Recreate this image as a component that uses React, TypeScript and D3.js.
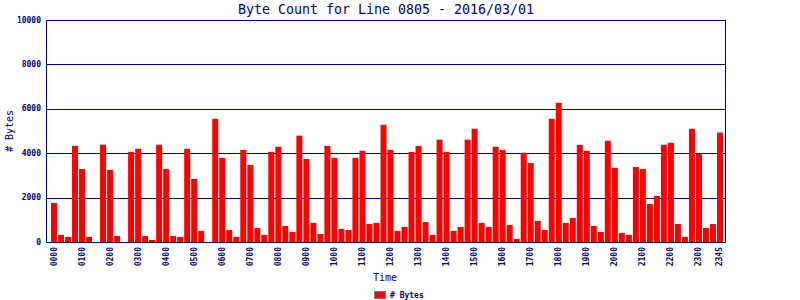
import React from "react";
import * as d3 from "d3";

const title = "Byte Count for Line 0805 - 2016/03/01";
const times: string[] = Array.from({ length: 96 }, (_, i) => {
  const h = Math.floor(i / 4);
  const m = (i % 4) * 15;
  return String(h).padStart(2, "0") + String(m).padStart(2, "0");
});
const tickLabels: string[] = [
  "0000", "0100", "0200", "0300", "0400", "0500", "0600", "0700", "0800", "0900", "1000", "1100",
  "1200", "1300", "1400", "1500", "1600", "1700", "1800", "1900", "2000", "2100", "2200", "2300", "2345",
];
const bytes: number[] = [
  1760, 320, 230, 4330, 3290, 230, 0, 4380,
  3250, 270, 0, 4060, 4200, 270, 90, 4380,
  3290, 270, 230, 4200, 2840, 500, 0, 5550,
  3790, 540, 230, 4150, 3470, 630, 320, 4060,
  4290, 720, 450, 4790, 3740, 860, 360, 4330,
  3790, 590, 540, 3790, 4110, 810, 860, 5280,
  4150, 500, 680, 4060, 4330, 900, 320, 4610,
  4060, 500, 680, 4610, 5100, 860, 680, 4290,
  4150, 770, 140, 4020, 3560, 950, 540, 5550,
  6270, 860, 1080, 4380, 4110, 720, 450, 4560,
  3340, 410, 320, 3380, 3290, 1710, 2080, 4380,
  4470, 810, 230, 5100, 3970, 630, 810, 4930,
];
const yTicks: number[] = [0, 2000, 4000, 6000, 8000, 10000];

const NAVY = "#000080";
const MONO = "'DejaVu Sans Mono', monospace";

export default function App() {
  const left = 46.5, right = 725.5, top = 20, bottom = 242;
  const x = d3.scaleBand<string>().domain(times).range([51, 723]).paddingInner(1 / 7).paddingOuter(0);
  const y = d3.scaleLinear().domain([0, 10000]).range([bottom, top]);

  return (
    <svg width={800} height={300} style={{ position: "absolute", left: 0, top: 0, background: "#fff" }}>
      <rect x={0} y={0} width={800} height={300} fill="#fff" />
      <text x={(left + right) / 2} y={14} textAnchor="middle" fontFamily={MONO} fontSize={13.3} fill={NAVY}>
        {title}
      </text>
      {yTicks.map((t) => (
        <g key={t}>
          <line x1={left} x2={right} y1={Math.round(y(t)) + 0.5} y2={Math.round(y(t)) + 0.5} stroke={NAVY} strokeWidth={1} />
          <text x={41} y={y(t)} textAnchor="end" dominantBaseline="central" fontFamily={MONO} fontSize={8} fontWeight="bold" fill={NAVY}>
            {t}
          </text>
        </g>
      ))}
      {bytes.map((v, i) => (
        <rect key={i} x={x(times[i])} y={y(v)} width={x.bandwidth()} height={bottom - y(v)} fill="#ff0000" />
      ))}
      <line x1={left} x2={left} y1={top} y2={bottom} stroke={NAVY} />
      <line x1={right} x2={right} y1={top} y2={bottom} stroke={NAVY} />
      <line x1={left} x2={right} y1={bottom + 0.5} y2={bottom + 0.5} stroke={NAVY} />
      {tickLabels.map((lab) => {
        const cx = (x(lab) ?? 0) + x.bandwidth() / 2;
        return (
          <text key={lab} transform={`translate(${cx},247) rotate(-90)`} textAnchor="end" dominantBaseline="central"
            fontFamily={MONO} fontSize={8} fontWeight="bold" fill={NAVY}>
            {lab}
          </text>
        );
      })}
      <text transform={`translate(9,131) rotate(-90)`} textAnchor="middle" dominantBaseline="central" fontFamily={MONO} fontSize={10} fill={NAVY}>
        # Bytes
      </text>
      <text x={385} y={281} textAnchor="middle" fontFamily={MONO} fontSize={10} fill={NAVY}>
        Time
      </text>
      <rect x={374.5} y={291.5} width={11} height={7} fill="#ff0000" stroke="#808080" />
      <text x={390} y={298} fontFamily={MONO} fontSize={8} fontWeight="bold" fill={NAVY}>
        # Bytes
      </text>
    </svg>
  );
}
